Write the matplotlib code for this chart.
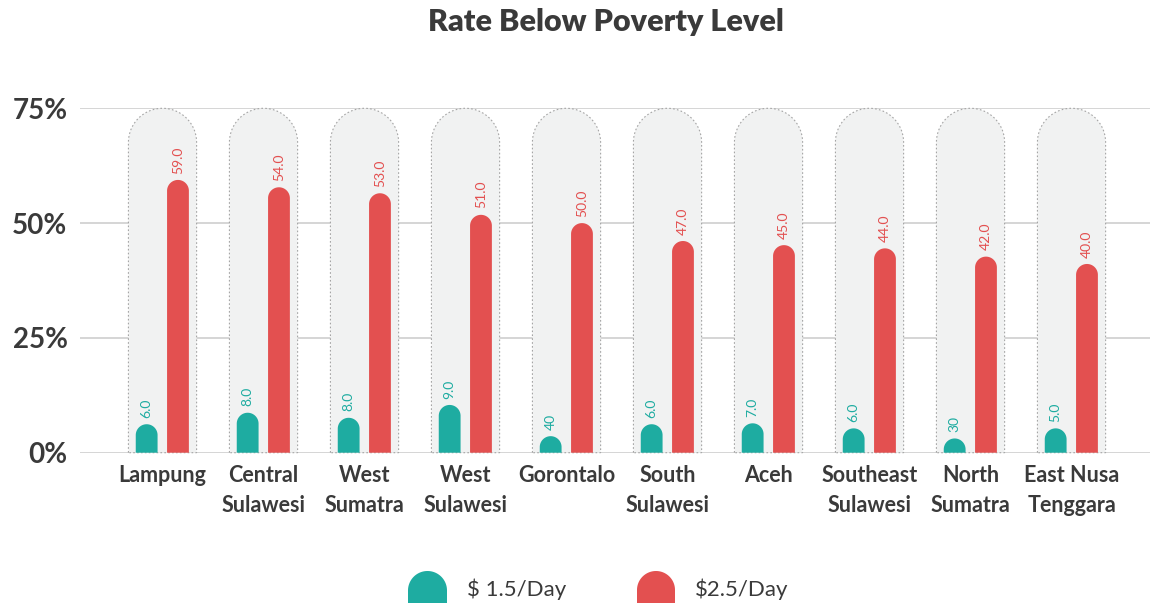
import numpy as np
import matplotlib.pyplot as plt
from matplotlib.patches import Polygon

# Data
provinces = ["Lampung", "Central\nSulawesi", "West\nSumatra", "West\nSulawesi", "Gorontalo",
             "South\nSulawesi", "Aceh", "Southeast\nSulawesi", "North\nSumatra", "East Nusa\nTenggara"]
# bar heights as drawn (percent)
low_heights = [6.2, 8.7, 7.6, 10.4, 3.6, 6.2, 6.4, 5.3, 3.1, 5.3]
high_heights = [59.4, 57.8, 56.5, 51.8, 50.0, 46.1, 45.2, 44.5, 42.7, 41.1]
# value labels as printed
low_labels = ["6.0", "8.0", "8.0", "9.0", "40", "6.0", "7.0", "6.0", "30", "5.0"]
high_labels = ["59.0", "54.0", "53.0", "51.0", "50.0", "47.0", "45.0", "44.0", "42.0", "40.0"]
y_ticks = [0, 25, 50, 75]
y_tick_labels = ["0%", "25%", "50%", "75%"]
legend_labels = ["\\$ 1.5/Day", "\\$2.5/Day"]

TEAL = "#1eaca1"
RED = "#e35050"
TXT = "#3a3a3a"
FONT = "Lato"

W, H = 1150, 610
fig = plt.figure(figsize=(W / 100, H / 100), dpi=100)
ax = fig.add_axes([80 / W, (H - 452.7) / H, (W - 80) / W, 344.4 / H])
ax.set_ylim(0, 75)
ax.set_xlim(-0.817, 9.777)

# pixels per data unit, used to keep round tops circular
p0 = ax.transData.transform((0, 0))
p1 = ax.transData.transform((1, 1))
ratio = (p1[0] - p0[0]) / (p1[1] - p0[1])


def dome(a, xc, half_w, h, r, **kw):
    ry = half_w * r
    t = np.linspace(np.pi, 0, 60)
    xs = np.concatenate([[xc - half_w], xc + half_w * np.cos(t), [xc + half_w]])
    ys = np.concatenate([[0], (h - ry) + ry * np.sin(t), [0]])
    a.add_patch(Polygon(np.column_stack([xs, ys]), closed=True, clip_on=False, **kw))


x = np.arange(len(provinces))
for i in x:
    # background pill
    dome(ax, i, 0.3375, 75, ratio, facecolor="#f1f2f2", edgecolor="#a5a5a5",
         linewidth=0.8, linestyle=(0, (1.5, 2)), zorder=2)
    dome(ax, i - 0.157, 0.108, low_heights[i], ratio, facecolor=TEAL, edgecolor="none", zorder=3)
    dome(ax, i + 0.153, 0.108, high_heights[i], ratio, facecolor=RED, edgecolor="none", zorder=3)
    ax.text(i - 0.157, low_heights[i] + 1.4, low_labels[i], rotation=90, ha="center", va="bottom",
            color=TEAL, fontsize=10, family=FONT, zorder=4)
    ax.text(i + 0.153, high_heights[i] + 1.4, high_labels[i], rotation=90, ha="center", va="bottom",
            color=RED, fontsize=10, family=FONT, zorder=4)

for yv in y_ticks:
    ax.axhline(yv, color="#d2d2d2", linewidth=1.3, zorder=1)

ax.set_yticks(y_ticks)
ax.set_yticklabels(y_tick_labels, fontsize=20, fontweight="bold", color=TXT, family=FONT)
ax.set_xticks(x)
ax.set_xticklabels(provinces, fontsize=15.5, fontweight="bold", color=TXT, family=FONT,
                   linespacing=1.5)
ax.tick_params(axis="y", length=0, pad=9)
ax.tick_params(axis="x", length=0, pad=9)
for s in ax.spines.values():
    s.set_visible(False)
ax.set_facecolor("none")

# overlay in pixel coordinates for title and legend
ov = fig.add_axes([0, 0, 1, 1], zorder=5)
ov.set_xlim(0, W)
ov.set_ylim(H, 0)
ov.axis("off")
ov.patch.set_alpha(0)

ov.text(606, 31, "Rate Below Poverty Level", ha="center", va="baseline", fontsize=22,
        fontweight="heavy", color=TXT, family=FONT)


def dome_px(a, x0, x1, top, bottom, color):
    r = (x1 - x0) / 2
    t = np.linspace(np.pi, 0, 60)
    xs = np.concatenate([[x0], (x0 + r) + r * np.cos(t), [x1]])
    ys = np.concatenate([[bottom], (top + r) - r * np.sin(t), [bottom]])
    a.add_patch(Polygon(np.column_stack([xs, ys]), closed=True, facecolor=color, edgecolor="none"))


dome_px(ov, 408, 447, 571, 603, TEAL)
dome_px(ov, 637, 675, 571, 603, RED)
ov.text(467, 596, legend_labels[0], ha="left", va="baseline", fontsize=16, color=TXT, family=FONT)
ov.text(695, 596, legend_labels[1], ha="left", va="baseline", fontsize=16, color=TXT, family=FONT)

fig.savefig("out.png", dpi=100, facecolor="white")
